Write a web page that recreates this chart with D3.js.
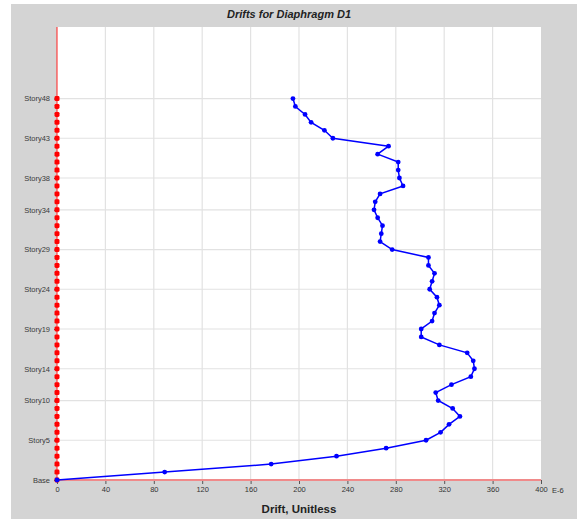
<!DOCTYPE html>
<html>
<head>
<meta charset="utf-8">
<script src="https://cdn.jsdelivr.net/npm/d3@7"></script>
<style>
  html, body { margin: 0; padding: 0; background: #ffffff; }
  svg { display: block; }
</style>
</head>
<body>
<svg id="chart" width="577" height="519"></svg>
<script>
// ---- Data ----
const stories = d3.range(0, 49); // 0 = Base ... 48 = Story48
const drifts = [
  0, 89, 177, 231, 272, 305, 317, 324, 333, 327,
  315, 313, 326, 342, 345, 344, 339, 316, 301, 301,
  310, 312, 316, 314, 308, 310, 312, 307, 307, 277,
  267, 268, 269, 265, 262, 263, 267, 286, 283, 282,
  282, 265, 274, 228, 221, 210, 205, 197, 195
];
const yTickStories = [0, 5, 10, 14, 19, 24, 29, 34, 38, 43, 48];
const yTickLabels = ["Base", "Story5", "Story10", "Story14", "Story19", "Story24", "Story29", "Story34", "Story38", "Story43", "Story48"];
const xTicks = [0, 40, 80, 120, 160, 200, 240, 280, 320, 360, 400];
const titleText = "Drifts for Diaphragm D1";
const xTitle = "Drift, Unitless";
const xUnit = "E-6";

// ---- Layout ----
const svg = d3.select("#chart");
const W = 577, H = 519;
const plot = { left: 57, right: 541, top: 27, bottom: 480 };

svg.append("rect").attr("x", 11).attr("y", 4).attr("width", W - 11).attr("height", H - 4).attr("fill", "#d4d4d4");
svg.append("rect").attr("x", plot.left).attr("y", plot.top)
  .attr("width", plot.right - plot.left).attr("height", plot.bottom - plot.top).attr("fill", "#ffffff");

const x = d3.scaleLinear().domain([0, 400]).range([plot.left, plot.right]);
const y = d3.scaleLinear().domain([0, 57]).range([plot.bottom, plot.top]);

const font = "'Liberation Sans', Arial, sans-serif";

// Grid
svg.append("g").selectAll("line").data(xTicks.filter(d => d > 0 && d < 400)).join("line")
  .attr("x1", d => x(d)).attr("x2", d => x(d)).attr("y1", plot.top).attr("y2", plot.bottom)
  .attr("stroke", "#e2e2e2").attr("stroke-width", 1.2);
svg.append("g").selectAll("line").data(yTickStories.filter(d => d > 0)).join("line")
  .attr("x1", plot.left).attr("x2", plot.right).attr("y1", d => y(d)).attr("y2", d => y(d))
  .attr("stroke", "#e2e2e2").attr("stroke-width", 1.2);

// X axis
const xAxis = d3.axisBottom(x).tickValues(xTicks).tickSize(4).tickSizeOuter(0).tickPadding(3).tickFormat(d3.format("d"));
const gx = svg.append("g").attr("transform", `translate(0,${plot.bottom})`).call(xAxis);
gx.select(".domain").remove();
gx.selectAll(".tick line").attr("stroke", "#555");
gx.selectAll(".tick text").attr("font-family", font).attr("font-size", 7.5).attr("fill", "#333");

// Y axis
const yAxis = d3.axisLeft(y).tickValues(yTickStories).tickSize(3).tickSizeOuter(0).tickPadding(4)
  .tickFormat((d, i) => yTickLabels[i]);
const gy = svg.append("g").attr("transform", `translate(${plot.left},0)`).call(yAxis);
gy.select(".domain").remove();
gy.selectAll(".tick line").attr("stroke", "#555");
gy.selectAll(".tick text").attr("font-family", font).attr("font-size", 7.5).attr("fill", "#3a3a3a");

// Axis lines
svg.append("line").attr("x1", plot.left).attr("x2", plot.right).attr("y1", plot.bottom).attr("y2", plot.bottom)
  .attr("stroke", "#f08a8a").attr("stroke-width", 2);
svg.append("line").attr("x1", plot.left).attr("x2", plot.left).attr("y1", plot.top).attr("y2", plot.bottom)
  .attr("stroke", "#ff2020").attr("stroke-width", 1);

// Red story markers on axis
svg.append("g").selectAll("rect").data(stories).join("rect")
  .attr("x", plot.left - 2.5).attr("y", d => y(d) - 2.5).attr("width", 5).attr("height", 5)
  .attr("rx", 1.4).attr("fill", "#ff0000");

// Drift line
const line = d3.line().x(d => x(d[0])).y(d => y(d[1]));
const pts = stories.map((s, i) => [drifts[i], s]);
svg.append("path").datum(pts).attr("d", line)
  .attr("fill", "none").attr("stroke", "#0000ff").attr("stroke-width", 1.5);
svg.append("g").selectAll("circle").data(pts).join("circle")
  .attr("cx", d => x(d[0])).attr("cy", d => y(d[1])).attr("r", 2.4).attr("fill", "#0000ff");

// Texts
svg.append("text").attr("x", 289).attr("y", 18).attr("text-anchor", "middle")
  .attr("font-family", font).attr("font-size", 11).attr("font-weight", "bold").attr("font-style", "italic")
  .attr("fill", "#222").text(titleText);
svg.append("text").attr("x", 299).attr("y", 513).attr("text-anchor", "middle")
  .attr("font-family", font).attr("font-size", 11.5).attr("font-weight", "bold")
  .attr("fill", "#222").text(xTitle);
svg.append("text").attr("x", x(400) + 11).attr("y", plot.bottom + 12.5)
  .attr("font-family", font).attr("font-size", 7.5).attr("fill", "#333").text(xUnit);
</script>
</body>
</html>
